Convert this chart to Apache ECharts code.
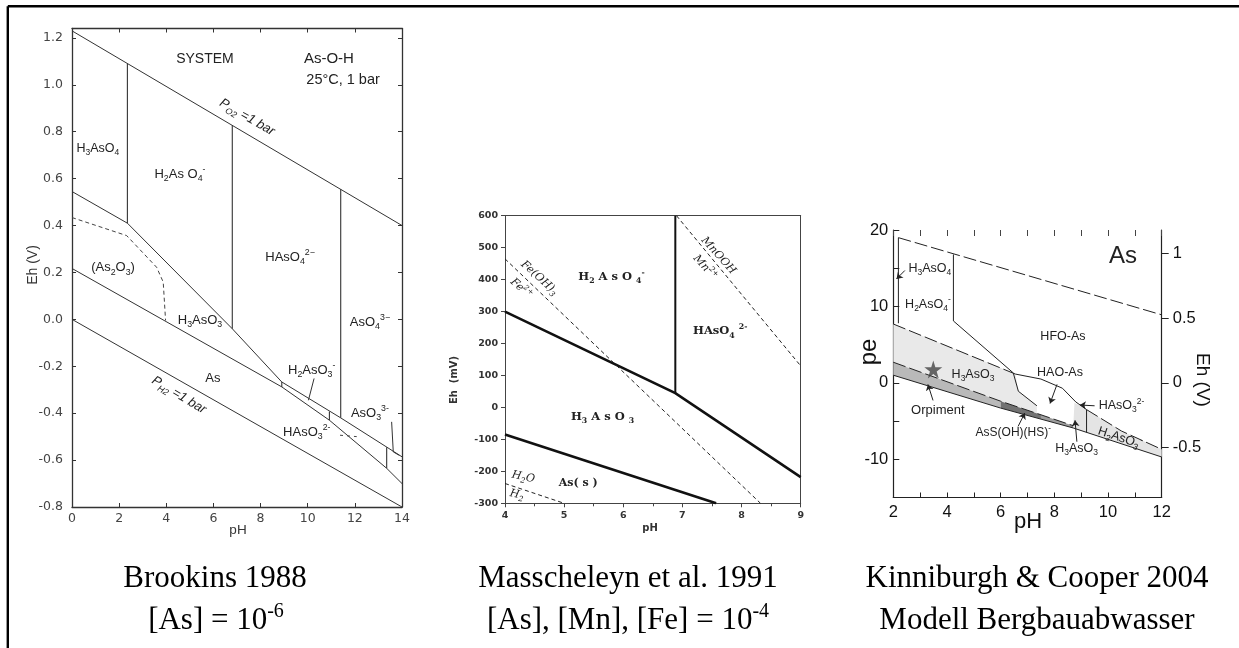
<!DOCTYPE html>
<html>
<head>
<meta charset="utf-8">
<script src="https://cdn.jsdelivr.net/npm/echarts@6/dist/echarts.min.js"></script>
<style>
  html, body { margin: 0; padding: 0; background: #fff; }
  #chart { width: 1239px; height: 648px; }
</style>
</head>
<body>
<div id="chart"></div>
<script>
// ---------- Brookins 1988, Eh (V) vs pH ----------
const brkAxisPH = [0, 14];
const brkAxisEh = [-0.8, 1.24];
const brkO2Line = [[0, 1.23], [14, 0.40]];
const brkH2Line = [[0, 0.0], [14, -0.80]];
const brkAsVAsIII = [[0, 0.545], [2.35, 0.41], [6.8, -0.04], [8.9, -0.267], [11.4, -0.42], [14, -0.586]];
const brkAsIIIAs = [[0, 0.217], [8.9, -0.288], [10.92, -0.43], [13.35, -0.635], [14, -0.70]];
const brkAs2O3 = [[0, 0.434], [2.32, 0.357], [3.59, 0.222], [3.87, 0.159], [3.97, -0.005]];
const brkVerticals = [
  [[2.35, 1.09], [2.35, 0.41]],
  [[6.8, 0.827], [6.8, -0.04]],
  [[11.4, 0.555], [11.4, -0.42]],
  [[8.9, -0.267], [8.9, -0.288]],
  [[10.92, -0.393], [10.92, -0.43]],
  [[13.35, -0.545], [13.35, -0.635]]
];
const brkPointers = [
  [[10.27, -0.252], [10.03, -0.345]],
  [[13.56, -0.437], [13.63, -0.565], [13.89, -0.58]]
];
const brkDashPointer = [[11.37, -0.494], [12.08, -0.50]];
const brkLabels = [
  [5.64, 1.11, 'SYSTEM'],
  [10.9, 1.11, 'As-O-H'],
  [11.5, 1.02, '25°C, 1 bar'],
  [7.43, 0.862, 'P_{O2} =1 bar'],
  [1.1, 0.73, 'H_{3}AsO_{4}'],
  [4.58, 0.62, 'H_{2}As O_{4}^{-}'],
  [9.25, 0.264, 'HAsO_{4}^{2−}'],
  [12.64, -0.013, 'AsO_{4}^{3−}'],
  [1.74, 0.221, '(As_{2}O_{3})'],
  [5.43, -0.004, 'H_{3}AsO_{3}'],
  [5.98, -0.251, 'As'],
  [4.54, -0.323, 'P_{H2} =1 bar'],
  [10.17, -0.217, 'H_{2}AsO_{3}^{-}'],
  [9.96, -0.48, 'HAsO_{3}^{2-}'],
  [12.64, -0.40, 'AsO_{3}^{3-}']
];

// ---------- Masscheleyn et al. 1991, Eh (mV) vs pH ----------
const masAxisPH = [4, 9];
const masAxisEh = [-300, 600];
const masAsVAsIII = [[4, 300], [6.88, 45], [9, -218]];
const masAsIIIAs = [[4, -85], [7.57, -300]];
const masH2AsO4HAsO4 = [[6.88, 600], [6.88, 45]];
const masFe = [[4, 465], [8.32, -300]];
const masMn = [[6.9, 600], [9, 130]];
const masH2O = [[4, -238], [5, -300]];
const masLabels = [
  [4.58, 405, 'Fe(OH)_{3}'],
  [4.27, 372, 'Fe^{2+}'],
  [5.8, 407, 'H_{2} A s O _{4}^{-}'],
  [7.64, 238, 'HAsO_{4} ^{2-}'],
  [5.65, -30, 'H_{3} A s O _{3}'],
  [5.24, -238, 'As( s )'],
  [4.31, -218, 'H_{2}O'],
  [4.2, -273, 'H_{2}'],
  [7.61, 475, 'MnOOH'],
  [7.38, 438, 'Mn^{2+}']
];

// ---------- Kinniburgh & Cooper 2004, pe vs pH ----------
const kinAxisPH = [2, 12];
const kinAxisPe = [-15, 20];
const kinEhTicks = [-0.5, 0, 0.5, 1];
const kinO2Line = [[2.19, 19.0], [12, 8.9]];
const kinV1 = [[2.19, 19.0], [2.19, 7.8]];
const kinV2 = [[4.24, 16.8], [4.24, 8.1]];
const kinV3 = [[9.2, -3.5], [9.2, -6.48]];
const kinHFO = [[4.24, 8.1], [6.47, 1.3], [6.66, -1.1], [7.35, -3.0]];
const kinUpperA = [[2, 7.7], [6.55, 1.15]];
const kinUpperB = [[6.55, 1.15], [7.5, 0.5], [8.3, -0.7], [8.8, -2.5], [9.2, -3.5]];
const kinUpperC = [[9.2, -3.5], [10.5, -6.3], [12, -8.7]];
const kinMid = [[2, 2.7], [6, -2.4], [8.7, -5.6]];
const kinLow = [[2, 1.0], [6, -3.3], [8.7, -5.9], [12, -9.7]];
const kinH3AsO3Zone = [[2, 7.7], [6.55, 1.15], [6.66, -1.1], [7.35, -3.0], [7.35, -4.1], [6, -2.4], [2, 2.7]];
const kinOrpimentZone = [[2, 2.7], [6, -2.4], [6, -3.3], [2, 1.0]];
const kinAsSOHHSZone = [[6, -2.4], [7.5, -4.18], [7.5, -4.74], [6, -3.3]];
const kinOrpimentTail = [[7.5, -4.18], [8.7, -5.6], [8.7, -5.9], [7.5, -4.74]];
const kinH2AsO3Zone = [[8.75, -2.6], [9.2, -3.5], [10.5, -6.3], [12, -8.7], [12, -9.7], [8.7, -5.9]];
const kinStar = [[3.49, 1.75]];
const kinArrows = [
  [[2.43, 14.7], [2.12, 13.6]],
  [[3.48, -2.3], [3.29, -0.2]],
  [[8.1, -0.2], [7.84, -2.7]],
  [[9.5, -3.0], [8.95, -2.9]],
  [[6.65, -5.7], [6.9, -3.95]],
  [[8.84, -7.7], [8.77, -4.9]]
];
const kinLabels = [
  [10.56, 16.5, 'As'],
  [3.36, 15.0, 'H_{3}AsO_{4}'],
  [3.29, 10.3, 'H_{2}AsO_{4}^{-}'],
  [8.32, 6.1, 'HFO-As'],
  [4.97, 1.1, 'H_{3}AsO_{3}'],
  [3.66, -3.6, 'Orpiment'],
  [8.21, 1.35, 'HAO-As'],
  [10.5, -3.0, 'HAsO_{3}^{2-}'],
  [6.47, -6.5, 'AsS(OH)(HS)^{-}'],
  [8.83, -8.6, 'H_{3}AsO_{3}'],
  [10.45, -7.2, 'H_{2}AsO_{3}^{-}']
];

// ---------- text styling ----------
const SANS = '"Liberation Sans", Arial, Helvetica, sans-serif';
const WIDE = '"DejaVu Sans", "Liberation Sans", sans-serif';
const SERIF = '"Liberation Serif", "Times New Roman", serif';
const WSERIF = '"DejaVu Serif", "Liberation Serif", serif';
const DEG = Math.PI / 180;

// per-label look: [fontSize, family, weight, italic, rotationDeg]
const brkLabelLook = [
  [14, SANS, 'normal', false, 0], [15, SANS, 'normal', false, 0], [14.5, SANS, 'normal', false, 0],
  [13, SANS, 'normal', true, -30], [12.5, SANS, 'normal', false, 0], [13, SANS, 'normal', false, 0],
  [13, SANS, 'normal', false, 0], [13, SANS, 'normal', false, 0], [13, SANS, 'normal', false, 0],
  [13, SANS, 'normal', false, 0], [13, SANS, 'normal', false, 0], [13, SANS, 'normal', true, -31],
  [13, SANS, 'normal', false, 0], [13, SANS, 'normal', false, 0], [13, SANS, 'normal', false, 0]
];
const masLabelLook = [
  [11, WSERIF, 'normal', true, -42], [11, WSERIF, 'normal', true, -42], [11.5, WSERIF, 'bold', false, 0],
  [11.5, WSERIF, 'bold', false, 0], [11.5, WSERIF, 'bold', false, 0], [11, WSERIF, 'bold', false, 0],
  [11, WSERIF, 'normal', true, -12], [11, WSERIF, 'normal', true, -12],
  [11, WSERIF, 'normal', true, -48], [11, WSERIF, 'normal', true, -48]
];
const kinLabelLook = [
  [24, SANS, 'normal', false, 0], [12.5, SANS, 'normal', false, 0], [12.5, SANS, 'normal', false, 0],
  [12.5, SANS, 'normal', false, 0], [12.5, SANS, 'normal', false, 0], [13, SANS, 'normal', false, 0],
  [12.5, SANS, 'normal', false, 0], [12.5, SANS, 'normal', false, 0], [12, SANS, 'normal', false, 0],
  [12.5, SANS, 'normal', false, 0], [12.5, SANS, 'normal', false, -18]
];

function toRich(s) {
  return s.replace(/_\{([^}]*)\}/g, '{sub|$1}').replace(/\^\{([^}]*)\}/g, '{sup|$1}');
}
function richStyles(size, family, weight, italic) {
  const small = Math.round(size * 0.68 * 10) / 10;
  const base = { fontSize: small, fontFamily: family, fontWeight: weight, fontStyle: italic ? 'italic' : 'normal' };
  return {
    sub: Object.assign({ verticalAlign: 'bottom', height: small + 1 }, base),
    sup: Object.assign({ verticalAlign: 'top', height: small + 1 }, base)
  };
}
function textStyle(text, look, fill) {
  const [size, family, weight, italic] = look;
  return {
    text: toRich(text),
    fill: fill,
    fontSize: size,
    fontFamily: family,
    fontWeight: weight,
    fontStyle: italic ? 'italic' : 'normal',
    lineHeight: Math.round(size * 1.45),
    align: 'center',
    verticalAlign: 'middle',
    rich: richStyles(size, family, weight, italic)
  };
}

// ---------- layout ----------
const G1 = { left: 72, top: 28.5, width: 330, height: 478.5 };
const G2 = { left: 505, top: 215.7, width: 295.7, height: 287.6 };
const G3 = { left: 893.3, top: 230, width: 268.4, height: 267.5 };
const PE_TO_EH = 0.05916;

function xy(gi) { return { xAxisIndex: gi * 2, yAxisIndex: gi * 2 }; }

function lineSer(gi, data, color, width, type) {
  return Object.assign({
    type: 'line', data: data, symbol: 'none', silent: true, animation: false, clip: true, z: 3,
    lineStyle: { color: color, width: width, type: type || 'solid', cap: 'butt', join: 'miter' }
  }, xy(gi));
}
function polySer(gi, polys, fills) {
  return Object.assign({
    type: 'custom', silent: true, animation: false, z: 1, clip: true,
    data: polys.map(p => p[0]),
    renderItem: function (params, api) {
      const pts = polys[params.dataIndex].map(p => api.coord(p));
      return { type: 'polygon', shape: { points: pts }, style: { fill: fills[params.dataIndex], stroke: null } };
    }
  }, xy(gi));
}
function labelSer(gi, labels, looks, fill) {
  return Object.assign({
    type: 'custom', silent: true, animation: false, z: 10, clip: false,
    data: labels.map(l => [l[0], l[1]]),
    renderItem: function (params, api) {
      const i = params.dataIndex;
      const p = api.coord([api.value(0), api.value(1)]);
      return {
        type: 'text', x: p[0], y: p[1], rotation: looks[i][4] * DEG,
        style: textStyle(labels[i][2], looks[i], fill)
      };
    }
  }, xy(gi));
}

function valAxis(gi, extra) {
  return Object.assign({
    gridIndex: gi, type: 'value', scale: false,
    splitLine: { show: false }, axisLine: { onZero: false }
  }, extra);
}

const tick1 = { show: true, inside: true, length: 4, lineStyle: { color: '#333', width: 1 } };
const line1 = { show: true, onZero: false, lineStyle: { color: '#333', width: 1.3 } };
const line2 = { show: true, onZero: false, lineStyle: { color: '#444', width: 1 } };
const line3 = { show: true, onZero: false, lineStyle: { color: '#222', width: 1.2 } };

const option = {
  animation: false,
  backgroundColor: '#ffffff',
  grid: [
    Object.assign({ containLabel: false }, G1),
    Object.assign({ containLabel: false }, G2),
    Object.assign({ containLabel: false }, G3)
  ],
  xAxis: [
    valAxis(0, { position: 'bottom', min: brkAxisPH[0], max: brkAxisPH[1], interval: 2,
      axisLine: line1, axisTick: tick1,
      axisLabel: { color: '#444', fontSize: 12.5, fontFamily: WIDE, margin: 5 } }),
    valAxis(0, { position: 'top', min: brkAxisPH[0], max: brkAxisPH[1], interval: 2,
      axisLine: line1, axisTick: tick1, axisLabel: { show: false } }),
    valAxis(1, { position: 'bottom', min: masAxisPH[0], max: masAxisPH[1], interval: 1,
      axisLine: line2,
      axisTick: { show: true, inside: false, length: 4, lineStyle: { color: '#444' } },
      minorTick: { show: true, splitNumber: 2, length: 3, lineStyle: { color: '#444' } },
      axisLabel: { color: '#333', fontSize: 9.5, fontWeight: 'bold', fontFamily: WIDE, margin: 7 } }),
    valAxis(1, { position: 'top', min: masAxisPH[0], max: masAxisPH[1], interval: 1,
      axisLine: line2, axisTick: { show: false }, axisLabel: { show: false } }),
    valAxis(2, { position: 'bottom', min: kinAxisPH[0], max: kinAxisPH[1], interval: 1,
      axisLine: line3,
      axisTick: { show: true, inside: true, length: 5, lineStyle: { color: '#222' } },
      axisLabel: { color: '#111', fontSize: 16.5, fontFamily: SANS, margin: 6,
        formatter: v => (Math.round(v) % 2 === 0 ? String(Math.round(v)) : '') } }),
    valAxis(2, { position: 'top', min: kinAxisPH[0], max: kinAxisPH[1], interval: 1,
      axisLine: { show: false, onZero: false },
      axisTick: { show: true, inside: true, length: 6, lineStyle: { color: '#444' } },
      axisLabel: { show: false } })
  ],
  yAxis: [
    valAxis(0, { position: 'left', min: brkAxisEh[0], max: brkAxisEh[1], interval: 0.2,
      axisLine: line1, axisTick: tick1,
      axisLabel: { color: '#444', fontSize: 12.5, fontFamily: WIDE, margin: 9,
        formatter: v => (Math.abs(v * 5 - Math.round(v * 5)) < 1e-6 ? (Math.round(v * 5) / 5).toFixed(1) : '') } }),
    valAxis(0, { position: 'right', min: brkAxisEh[0], max: brkAxisEh[1], interval: 0.2,
      axisLine: line1, axisTick: tick1, axisLabel: { show: false } }),
    valAxis(1, { position: 'left', min: masAxisEh[0], max: masAxisEh[1], interval: 100,
      axisLine: line2,
      axisTick: { show: true, inside: false, length: 4, lineStyle: { color: '#444' } },
      axisLabel: { color: '#333', fontSize: 9.5, fontWeight: 'bold', fontFamily: WIDE, margin: 7 } }),
    valAxis(1, { position: 'right', min: masAxisEh[0], max: masAxisEh[1], interval: 100,
      axisLine: line2, axisTick: { show: false }, axisLabel: { show: false } }),
    valAxis(2, { position: 'left', min: kinAxisPe[0], max: kinAxisPe[1], interval: 5,
      axisLine: line3,
      axisTick: { show: true, inside: true, length: 6, lineStyle: { color: '#222' } },
      axisLabel: { color: '#111', fontSize: 16.5, fontFamily: SANS, margin: 5,
        formatter: v => (Math.round(v) % 10 === 0 ? String(Math.round(v)) : '') } }),
    valAxis(2, { position: 'right', min: kinAxisPe[0] * PE_TO_EH, max: kinAxisPe[1] * PE_TO_EH,
      axisLine: line3,
      axisTick: { show: true, inside: false, length: 7, customValues: kinEhTicks, lineStyle: { color: '#222' } },
      axisLabel: { color: '#111', fontSize: 16.5, fontFamily: SANS, margin: 11, customValues: kinEhTicks,
        formatter: v => String(v) } })
  ],
  series: [
    // Brookins
    lineSer(0, brkO2Line, '#333', 1),
    lineSer(0, brkH2Line, '#333', 1),
    lineSer(0, brkAsVAsIII, '#333', 1),
    lineSer(0, brkAsIIIAs, '#333', 1),
    lineSer(0, brkAs2O3, '#444', 1, [4, 3]),
    ...brkVerticals.map(v => lineSer(0, v, '#333', 1.1)),
    ...brkPointers.map(v => lineSer(0, v, '#333', 1)),
    lineSer(0, brkDashPointer, '#444', 1, [3, 4]),
    labelSer(0, brkLabels, brkLabelLook, '#222'),

    // Masscheleyn
    lineSer(1, masAsVAsIII, '#111', 2.6),
    lineSer(1, masAsIIIAs, '#111', 2.6),
    lineSer(1, masH2AsO4HAsO4, '#111', 2),
    lineSer(1, masFe, '#222', 1, [4, 3]),
    lineSer(1, masMn, '#222', 1, [4, 3]),
    lineSer(1, masH2O, '#222', 1, [4, 3]),
    labelSer(1, masLabels, masLabelLook, '#222'),

    // Kinniburgh & Cooper
    polySer(2, [kinH3AsO3Zone, kinOrpimentZone, kinAsSOHHSZone, kinOrpimentTail, kinH2AsO3Zone],
      ['#e9e9e9', '#b9b9b9', '#727272', '#9c9c9c', '#e4e4e4']),
    lineSer(2, kinO2Line, '#222', 1, [13, 4]),
    lineSer(2, kinV1, '#222', 1),
    lineSer(2, kinV2, '#222', 1),
    lineSer(2, kinV3, '#222', 1),
    lineSer(2, kinHFO, '#222', 1),
    lineSer(2, kinUpperA, '#222', 1, [13, 4]),
    lineSer(2, kinUpperB, '#222', 1),
    lineSer(2, kinUpperC, '#222', 1, [13, 4]),
    lineSer(2, kinMid, '#222', 1, [13, 4]),
    lineSer(2, kinLow, '#222', 1),
    Object.assign({
      type: 'lines', coordinateSystem: 'cartesian2d', silent: true, animation: false, z: 6,
      symbol: ['none', 'arrow'], symbolSize: 6,
      lineStyle: { color: '#222', width: 1, opacity: 1, curveness: 0 },
      data: kinArrows.map(c => ({ coords: c }))
    }, xy(2)),
    Object.assign({
      type: 'scatter', silent: true, animation: false, z: 7, data: kinStar,
      symbol: 'path://M50,0 L61,36 L98,36 L68,58 L79,95 L50,72 L21,95 L32,58 L2,36 L39,36 Z',
      symbolSize: 18, itemStyle: { color: '#444' }
    }, xy(2)),
    labelSer(2, kinLabels, kinLabelLook, '#222')
  ],
  graphic: [
    // page frame
    { type: 'line', shape: { x1: 7.8, y1: 6.3, x2: 1239, y2: 6.3 }, style: { stroke: '#000', lineWidth: 2.4 }, silent: true },
    { type: 'line', shape: { x1: 7.8, y1: 6.3, x2: 7.8, y2: 648 }, style: { stroke: '#000', lineWidth: 2.4 }, silent: true },
    // axis titles
    { type: 'text', x: 33, y: 265, rotation: Math.PI / 2, silent: true,
      style: { text: 'Eh (V)', fill: '#333', fontSize: 14, fontFamily: SANS, align: 'center', verticalAlign: 'middle' } },
    { type: 'text', x: 238, y: 530, silent: true,
      style: { text: 'pH', fill: '#333', fontSize: 13.5, fontFamily: SANS, align: 'center', verticalAlign: 'middle' } },
    { type: 'text', x: 454, y: 380, rotation: Math.PI / 2, silent: true,
      style: { text: 'Eh  (mV)', fill: '#333', fontSize: 10, fontWeight: 'bold', fontFamily: WIDE, align: 'center', verticalAlign: 'middle' } },
    { type: 'text', x: 650, y: 528, silent: true,
      style: { text: 'pH', fill: '#333', fontSize: 10, fontWeight: 'bold', fontFamily: WIDE, align: 'center', verticalAlign: 'middle' } },
    { type: 'text', x: 869, y: 352, rotation: Math.PI / 2, silent: true,
      style: { text: 'pe', fill: '#111', fontSize: 24, fontFamily: SANS, align: 'center', verticalAlign: 'middle' } },
    { type: 'text', x: 1202, y: 380, rotation: -Math.PI / 2, silent: true,
      style: { text: 'Eh (V)', fill: '#111', fontSize: 19, fontFamily: SANS, align: 'center', verticalAlign: 'middle' } },
    { type: 'text', x: 1028, y: 522, silent: true,
      style: { text: 'pH', fill: '#111', fontSize: 22, fontFamily: SANS, align: 'center', verticalAlign: 'middle' } },
    // captions
    { type: 'text', x: 215, y: 579, silent: true,
      style: { text: 'Brookins 1988', fill: '#000', fontSize: 31, fontFamily: SERIF, align: 'center', verticalAlign: 'middle' } },
    { type: 'text', x: 216, y: 621, silent: true,
      style: { text: '[As] = 10{sup|-6}', fill: '#000', fontSize: 31, fontFamily: SERIF, lineHeight: 40,
        align: 'center', verticalAlign: 'middle',
        rich: { sup: { fontSize: 20, fontFamily: SERIF, verticalAlign: 'top', height: 22 } } } },
    { type: 'text', x: 628, y: 579, silent: true,
      style: { text: 'Masscheleyn et al. 1991', fill: '#000', fontSize: 31, fontFamily: SERIF, align: 'center', verticalAlign: 'middle' } },
    { type: 'text', x: 628, y: 621, silent: true,
      style: { text: '[As], [Mn], [Fe] = 10{sup|-4}', fill: '#000', fontSize: 31, fontFamily: SERIF, lineHeight: 40,
        align: 'center', verticalAlign: 'middle',
        rich: { sup: { fontSize: 20, fontFamily: SERIF, verticalAlign: 'top', height: 22 } } } },
    { type: 'text', x: 1037, y: 579, silent: true,
      style: { text: 'Kinniburgh & Cooper 2004', fill: '#000', fontSize: 31, fontFamily: SERIF, align: 'center', verticalAlign: 'middle' } },
    { type: 'text', x: 1037, y: 621, silent: true,
      style: { text: 'Modell Bergbauabwasser', fill: '#000', fontSize: 31, fontFamily: SERIF, align: 'center', verticalAlign: 'middle' } }
  ]
};

const chart = echarts.init(document.getElementById('chart'), null, { renderer: 'canvas' });
chart.setOption(option);
</script>
</body>
</html>
